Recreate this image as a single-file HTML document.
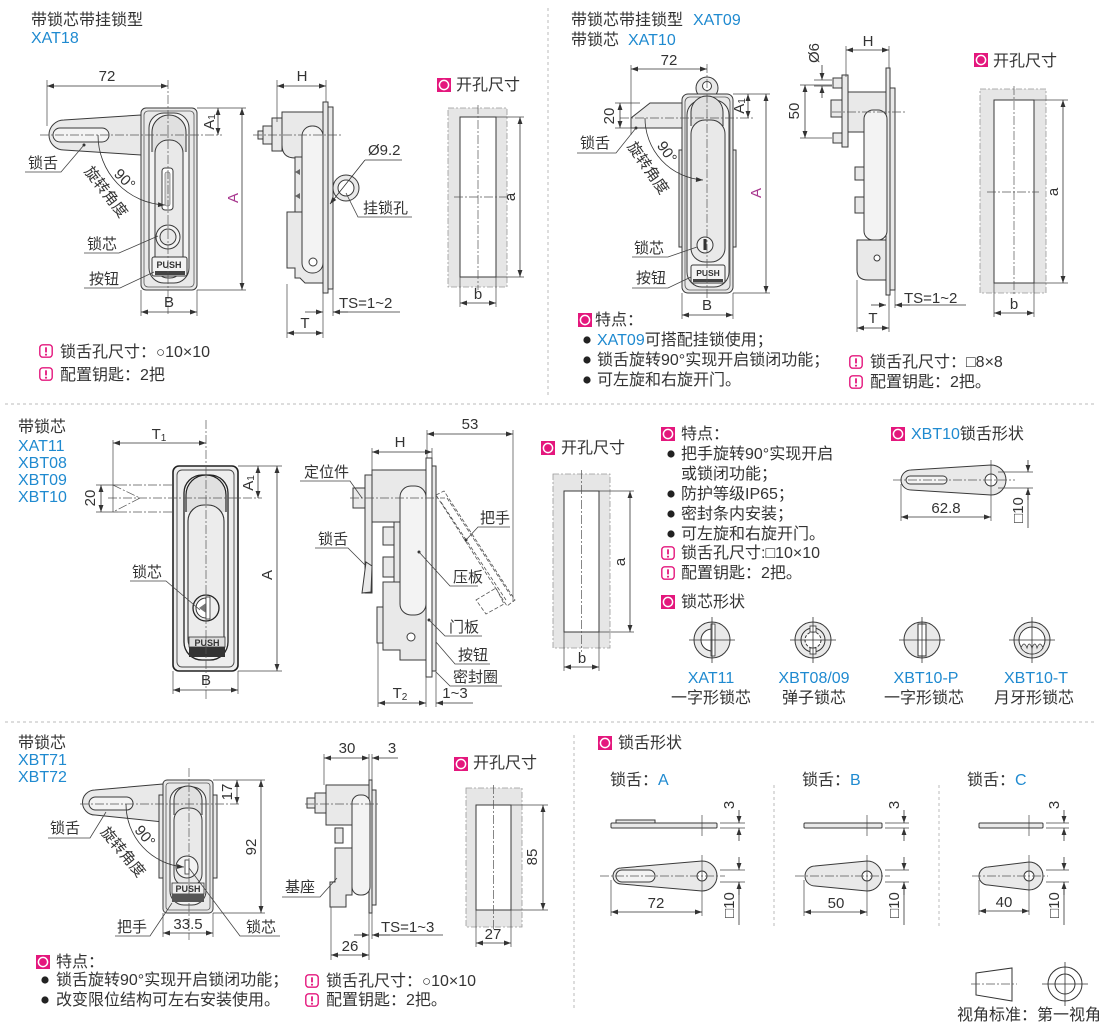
<!DOCTYPE html>
<html><head><meta charset="utf-8">
<style>
html,body{margin:0;padding:0;background:#fff;}
svg{display:block;}
text{font-family:"Liberation Sans","Noto Sans CJK SC",sans-serif;fill:#333;}
.c{font-size:16px;}
.l{font-size:15px;}
.d{font-size:15px;}
.b{fill:#1f8ad0;}
.m{fill:#a8388f;}
.dim{stroke:#333;stroke-width:0.8;fill:none;}
.ext{stroke:#444;stroke-width:0.7;fill:none;}
.cl{stroke:#555;stroke-width:0.7;fill:none;stroke-dasharray:9 2 2 2;}
.p{fill:#e9e9e9;stroke:#3a3a3a;stroke-width:1;}
.q{fill:#f3f3f3;stroke:#3a3a3a;stroke-width:1;}
.w{fill:#fff;stroke:#3a3a3a;stroke-width:1;}
.sep{stroke:#bbb;stroke-width:1;stroke-dasharray:3 3;fill:none;}
.co{fill:#e6e6e6;stroke:#999;stroke-width:0.8;stroke-dasharray:6 2 2 2;}
.ld{stroke:#444;stroke-width:0.8;fill:none;}
.ph{stroke:#555;stroke-width:0.8;fill:none;stroke-dasharray:4 2;}
.bu{fill:#222;}
</style></head><body>
<svg width="1110" height="1027" viewBox="0 0 1110 1027" xmlns="http://www.w3.org/2000/svg">
<defs>
<marker id="a" viewBox="0 0 10 10" refX="10" refY="5" markerWidth="8" markerHeight="7" markerUnits="userSpaceOnUse" orient="auto-start-reverse"><path d="M0,1.5L10,5L0,8.5z" fill="#333"/></marker>
<symbol id="io" viewBox="0 0 14 14"><rect width="14" height="14" fill="#e4177d"/><circle cx="7" cy="7" r="4.6" fill="none" stroke="#fff" stroke-width="1.5"/></symbol>
<symbol id="ie" viewBox="0 0 14 14"><rect x=".8" y=".8" width="12.4" height="12.4" rx="3" fill="#fff" stroke="#e4177d" stroke-width="1.4"/><path d="M7 3.3V8.4" stroke="#e4177d" stroke-width="1.8"/><circle cx="7" cy="10.7" r="1.05" fill="#e4177d"/></symbol>
</defs>

<!-- separators -->
<line x1="548" y1="8" x2="548" y2="398" class="sep"/>
<line x1="5" y1="404" x2="1095" y2="404" class="sep"/>
<line x1="5" y1="722" x2="1095" y2="722" class="sep"/>
<line x1="574" y1="735" x2="574" y2="1010" class="sep"/>

<!-- ================= SECTION 1 ================= -->
<text x="31" y="25" class="c">带锁芯带挂锁型</text>
<text x="31" y="43" class="c b">XAT18</text>

<!-- front view -->
<path d="M141,115 L64,120 A15,15 0 0 0 64,150 L141,155 Z" class="p"/>
<rect x="53" y="128" width="56" height="14" rx="7" class="q"/>
<rect x="141" y="108" width="56" height="182" rx="5" class="p"/>
<rect x="144" y="111" width="50" height="176" rx="4" fill="none" stroke="#555" stroke-width="0.8"/>
<rect x="149" y="113" width="40" height="170" rx="15" class="q"/>
<path d="M152,152 V132 A16,16 0 0 1 186,132 V152" fill="#e0e0e0" stroke="#333" stroke-width="1"/>
<rect x="155" y="140" width="28" height="138" rx="13" class="p"/>
<rect x="162" y="168" width="11" height="42" rx="3" class="w"/>
<rect x="165" y="172" width="5" height="34" rx="2" fill="#ddd" stroke="#555" stroke-width="0.6"/>
<circle cx="168" cy="237" r="12" class="q"/>
<circle cx="168" cy="237" r="8" class="p"/>
<rect x="152" y="257" width="35" height="19" rx="2" class="q"/>
<text x="169" y="268" font-size="9" font-weight="bold" text-anchor="middle">PUSH</text>
<rect x="155" y="271" width="30" height="4" fill="#444"/>
<line x1="168" y1="80" x2="168" y2="316" class="cl"/>
<line x1="40" y1="135" x2="222" y2="135" class="cl"/>
<g class="dim" marker-start="url(#a)" marker-end="url(#a)">
<line x1="47" y1="86" x2="168" y2="86"/>
<line x1="218" y1="108" x2="218" y2="135"/>
<line x1="242" y1="108" x2="242" y2="290"/>
<line x1="141" y1="312" x2="197" y2="312"/>
</g>
<g class="ext">
<line x1="47" y1="80" x2="47" y2="126"/>
<line x1="197" y1="108" x2="246" y2="108"/>
<line x1="197" y1="290" x2="246" y2="290"/>
<line x1="141" y1="290" x2="141" y2="316"/>
<line x1="197" y1="290" x2="197" y2="316"/>
</g>
<text x="107" y="81" class="d" text-anchor="middle">72</text>
<text transform="rotate(-90 214 122)" x="214" y="122" class="d" text-anchor="middle">A<tspan font-size="10" dy="1">1</tspan></text>
<text transform="rotate(-90 238 198)" x="238" y="198" class="d m" text-anchor="middle">A</text>
<text x="169" y="307" class="d" text-anchor="middle">B</text>
<path d="M98,135 A70,70 0 0 0 165,205" class="dim" marker-end="url(#a)"/>
<text transform="rotate(45 124 180)" x="124" y="184" class="l" text-anchor="middle">90°</text>
<text transform="rotate(52 106 192)" x="106" y="197" class="l" text-anchor="middle">旋转角度</text>
<text x="28" y="168" class="l">锁舌</text>
<polyline points="25,172 61,172 84,145" class="ld"/><circle cx="84" cy="145" r="1.5" fill="#333"/>
<text x="87" y="249" class="l">锁芯</text>
<polyline points="84,253 119,253 158,236" class="ld"/>
<text x="89" y="284" class="l">按钮</text>
<polyline points="84,288 120,288 154,272" class="ld"/>

<!-- side view 1 -->
<rect x="323" y="102" width="5" height="191" class="p"/>
<rect x="328" y="107" width="5" height="182" class="p"/>
<rect x="272" y="118" width="10" height="33" class="p"/>
<rect x="263" y="126" width="9" height="18" class="p"/>
<rect x="258" y="131" width="5" height="8" class="p"/>
<path d="M282,112 H323 V158 H295 Q282,158 282,145 Z" class="p"/>
<rect x="295" y="157" width="7" height="55" class="p"/>
<path d="M295,172 l5,-3 v6z M295,196 l5,-3 v6z" fill="#666"/>
<path d="M287,212 H323 V283 H305 L300,278 H295 V268 H287 Z" class="p"/>
<rect x="302" y="126" width="21" height="147" rx="10" class="q"/>
<circle cx="313" cy="262" r="4" class="w"/>
<circle cx="346" cy="188" r="13" class="p"/>
<circle cx="346" cy="188" r="8" class="w"/>
<line x1="253" y1="135" x2="342" y2="135" class="cl"/>
<g class="dim" marker-start="url(#a)" marker-end="url(#a)">
<line x1="277" y1="86" x2="326" y2="86"/>
<line x1="287" y1="333" x2="323" y2="333"/>
</g>
<g class="dim" marker-end="url(#a)">
<line x1="365" y1="160" x2="330" y2="204"/>
<line x1="305" y1="312" x2="323" y2="312"/>
<line x1="348" y1="312" x2="333" y2="312"/>
</g>
<line x1="333" y1="312" x2="400" y2="312" class="dim"/>
<line x1="365" y1="160" x2="402" y2="160" class="dim"/>
<g class="ext">
<line x1="277" y1="80" x2="277" y2="122"/>
<line x1="326" y1="80" x2="326" y2="102"/>
<line x1="287" y1="284" x2="287" y2="338"/>
<line x1="323" y1="293" x2="323" y2="338"/>
<line x1="333" y1="289" x2="333" y2="316"/>
</g>
<text x="302" y="81" class="d" text-anchor="middle">H</text>
<text x="305" y="328" class="d" text-anchor="middle">T</text>
<text x="339" y="308" class="d">TS=1~2</text>
<text x="368" y="155" class="d">Ø9.2</text>
<text x="363" y="213" class="l">挂锁孔</text>
<polyline points="412,217 358,217 346,193" class="ld"/>

<!-- cutout 1 -->
<use href="#io" x="437" y="78" width="14" height="14"/>
<text x="456" y="90" class="c">开孔尺寸</text>
<rect x="448" y="108" width="59" height="179" class="co"/>
<rect x="460" y="117" width="36" height="160" class="w"/>
<line x1="478" y1="105" x2="478" y2="290" class="cl"/>
<line x1="454" y1="197" x2="512" y2="197" class="cl"/>
<g class="dim" marker-start="url(#a)" marker-end="url(#a)">
<line x1="520" y1="117" x2="520" y2="277"/>
<line x1="460" y1="303" x2="496" y2="303"/>
</g>
<g class="ext">
<line x1="496" y1="117" x2="524" y2="117"/>
<line x1="496" y1="277" x2="524" y2="277"/>
<line x1="460" y1="277" x2="460" y2="307"/>
<line x1="496" y1="277" x2="496" y2="307"/>
</g>
<text transform="rotate(-90 515 197)" x="515" y="197" class="d" text-anchor="middle">a</text>
<text x="478" y="299" class="d" text-anchor="middle">b</text>

<use href="#ie" x="39" y="344" width="14" height="14"/>
<text x="60" y="357" class="c">锁舌孔尺寸：<tspan font-size="15">○</tspan>10×10</text>
<use href="#ie" x="39" y="367" width="14" height="14"/>
<text x="60" y="380" class="c">配置钥匙：2把</text>

<!-- ================= SECTION 2 ================= -->
<text x="571" y="25" class="c">带锁芯带挂锁型<tspan x="693" class="b">XAT09</tspan></text>
<text x="571" y="45" class="c">带锁芯<tspan x="628" class="b">XAT10</tspan></text>

<path d="M631,128 H682 V103 H650 L631,118 Z" class="p"/>
<circle cx="707" cy="88" r="11" class="p"/>
<circle cx="707" cy="86" r="4.5" class="w"/>
<rect x="679" y="150" width="4" height="97" class="p"/>
<rect x="732" y="150" width="4" height="97" class="p"/>
<rect x="682" y="94" width="51" height="199" rx="6" class="p"/>
<rect x="685" y="97" width="45" height="193" rx="5" fill="none" stroke="#555" stroke-width="0.8"/>
<rect x="687" y="100" width="42" height="187" rx="15" class="q"/>
<path d="M691,126 V112 A16,16 0 0 1 723,112 V126" fill="#e0e0e0" stroke="#333"/>
<rect x="691" y="120" width="34" height="142" rx="14" class="p"/>
<circle cx="705" cy="245" r="8" class="q"/>
<rect x="703.5" y="239" width="3" height="11" fill="#333"/>
<rect x="691" y="265" width="34" height="18" rx="2" class="q"/>
<text x="708" y="276" font-size="8.5" font-weight="bold" text-anchor="middle">PUSH</text>
<rect x="693" y="279" width="30" height="3" fill="#444"/>
<line x1="707" y1="64" x2="707" y2="300" class="cl"/>
<line x1="620" y1="118" x2="755" y2="118" class="cl"/>
<g class="dim" marker-start="url(#a)" marker-end="url(#a)">
<line x1="631" y1="69" x2="707" y2="69"/>
<line x1="620" y1="103" x2="620" y2="128"/>
<line x1="748" y1="94" x2="748" y2="118"/>
<line x1="766" y1="94" x2="766" y2="293"/>
<line x1="682" y1="315" x2="733" y2="315"/>
</g>
<g class="ext">
<line x1="631" y1="65" x2="631" y2="135"/>
<line x1="615" y1="103" x2="640" y2="103"/>
<line x1="615" y1="128" x2="640" y2="128"/>
<line x1="733" y1="94" x2="770" y2="94"/>
<line x1="733" y1="293" x2="770" y2="293"/>
<line x1="682" y1="293" x2="682" y2="319"/>
<line x1="733" y1="293" x2="733" y2="319"/>
</g>
<text x="669" y="65" class="d" text-anchor="middle">72</text>
<text transform="rotate(-90 614 116)" x="614" y="116" class="d" text-anchor="middle">20</text>
<text transform="rotate(-90 744 106)" x="744" y="106" class="d" text-anchor="middle">A<tspan font-size="10" dy="1">1</tspan></text>
<text transform="rotate(-90 761 193)" x="761" y="193" class="d m" text-anchor="middle">A</text>
<text x="707" y="310" class="d" text-anchor="middle">B</text>
<path d="M645,118 A62,62 0 0 0 703,180" class="dim" marker-end="url(#a)"/>
<text transform="rotate(55 667 152)" x="667" y="157" class="l" text-anchor="middle">90°</text>
<text transform="rotate(55 648 168)" x="648" y="173" class="l" text-anchor="middle">旋转角度</text>
<text x="580" y="148" class="l">锁舌</text>
<polyline points="577,153 616,153 636,128" class="ld"/><circle cx="636" cy="128" r="1.5" fill="#333"/>
<text x="634" y="253" class="l">锁芯</text>
<polyline points="632,257 668,257 697,247" class="ld"/>
<text x="636" y="283" class="l">按钮</text>
<polyline points="632,288 668,288 691,277" class="ld"/>

<!-- side view 2 -->
<rect x="886" y="68" width="4" height="227" class="p"/>
<rect x="890" y="88" width="5" height="202" class="p"/>
<rect x="842" y="75" width="6" height="72" class="p"/>
<rect x="833" y="78" width="9" height="10" class="p"/>
<rect x="831" y="100" width="11" height="17" class="p"/>
<rect x="833" y="133" width="9" height="10" class="p"/>
<rect x="848" y="92" width="38" height="40" class="p"/>
<rect x="864" y="110" width="23" height="130" rx="9" class="q"/>
<rect x="855" y="167" width="9" height="13" class="p"/>
<rect x="855" y="197" width="9" height="16" class="p"/>
<path d="M857,240 H886 V280 H868 Q857,280 857,270 Z" class="p"/>
<circle cx="877" cy="258" r="3" class="w"/>
<line x1="832" y1="112" x2="907" y2="112" class="cl"/>
<g class="dim" marker-start="url(#a)" marker-end="url(#a)">
<line x1="805" y1="85" x2="805" y2="138"/>
<line x1="846" y1="50" x2="889" y2="50"/>
<line x1="857" y1="328" x2="889" y2="328"/>
</g>
<g class="dim" marker-end="url(#a)">
<line x1="822" y1="65" x2="822" y2="80"/>
<line x1="822" y1="98" x2="822" y2="86"/>
<line x1="871" y1="305" x2="886" y2="305"/>
<line x1="910" y1="305" x2="895" y2="305"/>
</g>
<line x1="895" y1="305" x2="966" y2="305" class="dim"/>
<g class="ext">
<line x1="814" y1="80" x2="832" y2="80"/>
<line x1="814" y1="86" x2="832" y2="86"/>
<line x1="800" y1="85" x2="832" y2="85"/>
<line x1="800" y1="138" x2="832" y2="138"/>
<line x1="846" y1="46" x2="846" y2="77"/>
<line x1="889" y1="46" x2="889" y2="68"/>
<line x1="857" y1="280" x2="857" y2="332"/>
<line x1="889" y1="295" x2="889" y2="332"/>
<line x1="895" y1="290" x2="895" y2="308"/>
</g>
<text transform="rotate(-90 819 53)" x="819" y="53" class="d" text-anchor="middle">Ø6</text>
<text transform="rotate(-90 799 111)" x="799" y="111" class="d" text-anchor="middle">50</text>
<text x="868" y="46" class="d" text-anchor="middle">H</text>
<text x="873" y="323" class="d" text-anchor="middle">T</text>
<text x="904" y="303" class="d">TS=1~2</text>

<!-- cutout 2 -->
<use href="#io" x="974" y="53" width="14" height="14"/>
<text x="993" y="66" class="c">开孔尺寸</text>
<rect x="980" y="89" width="66" height="204" class="co"/>
<rect x="994" y="100" width="40" height="183" class="w"/>
<line x1="1014" y1="86" x2="1014" y2="296" class="cl"/>
<line x1="987" y1="192" x2="1039" y2="192" class="cl"/>
<g class="dim" marker-start="url(#a)" marker-end="url(#a)">
<line x1="1063" y1="100" x2="1063" y2="283"/>
<line x1="994" y1="313" x2="1034" y2="313"/>
</g>
<g class="ext">
<line x1="1034" y1="100" x2="1068" y2="100"/>
<line x1="1034" y1="283" x2="1068" y2="283"/>
<line x1="994" y1="283" x2="994" y2="317"/>
<line x1="1034" y1="283" x2="1034" y2="317"/>
</g>
<text transform="rotate(-90 1058 192)" x="1058" y="192" class="d" text-anchor="middle">a</text>
<text x="1014" y="309" class="d" text-anchor="middle">b</text>

<use href="#io" x="578" y="313" width="14" height="14"/>
<text x="595" y="325" class="c">特点：</text>
<circle cx="587" cy="340" r="3.6" class="bu"/>
<text x="597" y="345" class="c"><tspan class="b">XAT09</tspan>可搭配挂锁使用；</text>
<circle cx="587" cy="360" r="3.6" class="bu"/>
<text x="597" y="365" class="c">锁舌旋转90°实现开启锁闭功能；</text>
<circle cx="587" cy="380" r="3.6" class="bu"/>
<text x="597" y="385" class="c">可左旋和右旋开门。</text>
<use href="#ie" x="849" y="355" width="14" height="14"/>
<text x="870" y="367" class="c">锁舌孔尺寸：□8×8</text>
<use href="#ie" x="849" y="375" width="14" height="14"/>
<text x="870" y="387" class="c">配置钥匙：2把。</text>

<!-- ================= SECTION 3 ================= -->
<text x="18" y="432" class="c">带锁芯</text>
<text x="18" y="451" class="c b">XAT11</text>
<text x="18" y="468" class="c b">XBT08</text>
<text x="18" y="485" class="c b">XBT09</text>
<text x="18" y="502" class="c b">XBT10</text>

<path d="M172,485 H118 M172,512 H118 M113,485 L140,498 L113,512" class="cl"/>
<rect x="173" y="466" width="65" height="205" rx="6" fill="#eee" stroke="#222" stroke-width="1.6"/>
<rect x="177" y="470" width="57" height="197" rx="5" fill="none" stroke="#444" stroke-width="0.9"/>
<rect x="184" y="475" width="44" height="185" rx="18" fill="#f3f3f3" stroke="#222" stroke-width="1.3"/>
<path d="M186,512 V495 A20,20 0 0 1 226,495 V512" fill="#e0e0e0" stroke="#222" stroke-width="1.2"/>
<rect x="188" y="505" width="36" height="150" rx="16" fill="#ececec" stroke="#333" stroke-width="1.1"/>
<circle cx="206" cy="608" r="13" fill="#eee" stroke="#222" stroke-width="1.3"/>
<path d="M206,598 A10,10 0 0 0 206,618 Z" fill="#fff" stroke="#333"/>
<path d="M206,603 L199,608 L206,613 Z" fill="#777"/>
<rect x="206" y="597" width="4" height="22" fill="#fff" stroke="#333" stroke-width="0.8"/>
<rect x="189" y="637" width="36" height="10" fill="#ddd" stroke="#333" stroke-width="0.8"/>
<text x="207" y="646" font-size="9" font-weight="bold" text-anchor="middle">PUSH</text>
<rect x="189" y="647" width="36" height="10" fill="#333"/>
<line x1="206" y1="420" x2="206" y2="700" class="cl"/>
<line x1="108" y1="498" x2="262" y2="498" class="cl"/>
<g class="dim" marker-start="url(#a)" marker-end="url(#a)">
<line x1="113" y1="443" x2="206" y2="443"/>
<line x1="101" y1="485" x2="101" y2="512"/>
<line x1="258" y1="466" x2="258" y2="498"/>
<line x1="277" y1="466" x2="277" y2="671"/>
<line x1="173" y1="690" x2="238" y2="690"/>
</g>
<g class="ext">
<line x1="113" y1="440" x2="113" y2="512"/>
<line x1="96" y1="485" x2="118" y2="485"/>
<line x1="96" y1="512" x2="118" y2="512"/>
<line x1="238" y1="466" x2="282" y2="466"/>
<line x1="238" y1="671" x2="282" y2="671"/>
<line x1="173" y1="671" x2="173" y2="694"/>
<line x1="238" y1="671" x2="238" y2="694"/>
</g>
<text x="159" y="439" class="d" text-anchor="middle">T<tspan font-size="10" dy="2">1</tspan></text>
<text transform="rotate(-90 95 498)" x="95" y="498" class="d" text-anchor="middle">20</text>
<text transform="rotate(-90 253 483)" x="253" y="483" class="d" text-anchor="middle">A<tspan font-size="10" dy="1">1</tspan></text>
<text transform="rotate(-90 272 575)" x="272" y="575" class="d" text-anchor="middle">A</text>
<text x="206" y="685" class="d" text-anchor="middle">B</text>
<text x="132" y="577" class="l">锁芯</text>
<polyline points="130,581 166,581 200,610" class="ld"/>

<!-- side view 3 -->
<rect x="426" y="458" width="6" height="219" class="w"/>
<rect x="432" y="466" width="4" height="205" class="p"/>
<rect x="365" y="475" width="7" height="118" class="p"/>
<rect x="353" y="488" width="12" height="20" class="p"/>
<rect x="372" y="470" width="54" height="52" class="p"/>
<rect x="394" y="522" width="6" height="60" class="p"/>
<rect x="383" y="527" width="11" height="18" class="p"/>
<rect x="383" y="557" width="11" height="20" class="p"/>
<path d="M383,582 H426 V660 H400 V650 H383 Z" class="p"/>
<rect x="377" y="607" width="6" height="36" class="p"/>
<rect x="400" y="486" width="26" height="129" rx="11" class="q"/>
<circle cx="411" cy="637" r="4" class="w"/>
<path d="M366,562 L372,566 L371,592 L362,593 Z" class="p"/>
<path d="M436,495 L444,491 L515,600 L507,606 Z M441,502 L506,600 M447,498 L511,596" class="ph"/>
<path d="M476,600 L496,588 L504,604 L486,614 Z" class="ph"/>
<line x1="350" y1="498" x2="445" y2="498" class="cl"/>
<circle cx="419" cy="552" r="1.5" fill="#333"/>
<circle cx="429" cy="620" r="1.5" fill="#333"/>
<circle cx="466" cy="540" r="1.5" fill="#333"/>
<g class="dim" marker-start="url(#a)" marker-end="url(#a)">
<line x1="372" y1="452" x2="432" y2="452"/>
<line x1="427" y1="434" x2="513" y2="434"/>
<line x1="378" y1="703" x2="426" y2="703"/>
</g>
<line x1="473" y1="703" x2="436" y2="703" class="dim" marker-end="url(#a)"/>
<g class="ext">
<line x1="372" y1="448" x2="372" y2="475"/>
<line x1="432" y1="448" x2="432" y2="458"/>
<line x1="427" y1="430" x2="427" y2="458"/>
<line x1="513" y1="430" x2="513" y2="602"/>
<line x1="378" y1="643" x2="378" y2="707"/>
<line x1="426" y1="677" x2="426" y2="707"/>
<line x1="436" y1="671" x2="436" y2="707"/>
</g>
<text x="400" y="447" class="d" text-anchor="middle">H</text>
<text x="470" y="429" class="d" text-anchor="middle">53</text>
<text x="400" y="698" class="d" text-anchor="middle">T<tspan font-size="10" dy="2">2</tspan></text>
<text x="455" y="698" class="d" text-anchor="middle">1~3</text>
<text x="304" y="477" class="l">定位件</text>
<polyline points="300,481 350,481 362,498" class="ld"/>
<text x="318" y="544" class="l">锁舌</text>
<polyline points="315,548 348,548 365,565" class="ld"/>
<text x="480" y="523" class="l">把手</text>
<polyline points="510,527 478,527 466,540" class="ld"/>
<text x="453" y="582" class="l">压板</text>
<polyline points="478,586 450,586 419,552" class="ld"/>
<text x="449" y="632" class="l">门板</text>
<polyline points="482,636 445,636 429,620" class="ld"/>
<text x="458" y="660" class="l">按钮</text>
<polyline points="490,664 455,664 436,642" class="ld"/>
<text x="453" y="682" class="l">密封圈</text>
<polyline points="502,686 450,686 436,672" class="ld"/>

<!-- cutout 3 -->
<use href="#io" x="541" y="441" width="14" height="14"/>
<text x="561" y="453" class="c">开孔尺寸</text>
<rect x="553" y="474" width="57" height="174" class="co"/>
<rect x="564" y="491" width="35" height="141" class="w"/>
<line x1="581.5" y1="470" x2="581.5" y2="652" class="cl"/>
<g class="dim" marker-start="url(#a)" marker-end="url(#a)">
<line x1="630" y1="491" x2="630" y2="632"/>
<line x1="564" y1="667" x2="599" y2="667"/>
</g>
<g class="ext">
<line x1="599" y1="491" x2="634" y2="491"/>
<line x1="599" y1="632" x2="634" y2="632"/>
<line x1="564" y1="632" x2="564" y2="671"/>
<line x1="599" y1="632" x2="599" y2="671"/>
</g>
<text transform="rotate(-90 625 562)" x="625" y="562" class="d" text-anchor="middle">a</text>
<text x="582" y="663" class="d" text-anchor="middle">b</text>

<!-- features 3 -->
<use href="#io" x="661" y="427" width="14" height="14"/>
<text x="681" y="439" class="c">特点：</text>
<circle cx="671" cy="454" r="3.6" class="bu"/>
<text x="681" y="459" class="c">把手旋转90°实现开启</text>
<text x="681" y="479" class="c">或锁闭功能；</text>
<circle cx="671" cy="494" r="3.6" class="bu"/>
<text x="681" y="499" class="c">防护等级IP65；</text>
<circle cx="671" cy="514" r="3.6" class="bu"/>
<text x="681" y="519" class="c">密封条内安装；</text>
<circle cx="671" cy="534" r="3.6" class="bu"/>
<text x="681" y="539" class="c">可左旋和右旋开门。</text>
<use href="#ie" x="661" y="546" width="14" height="14"/>
<text x="681" y="558" class="c">锁舌孔尺寸:□10×10</text>
<use href="#ie" x="661" y="566" width="14" height="14"/>
<text x="681" y="578" class="c">配置钥匙：2把。</text>
<use href="#io" x="661" y="595" width="14" height="14"/>
<text x="681" y="607" class="c">锁芯形状</text>

<!-- lock cores -->
<g>
<circle cx="712" cy="640" r="18" class="p"/>
<path d="M712,629 A11,11 0 0 0 712,651 Z" fill="#fff" stroke="#333"/>
<rect x="711" y="624" width="4" height="32" fill="#fff" stroke="#333" stroke-width="0.8"/>
<line x1="689" y1="640" x2="735" y2="640" stroke="#333" stroke-width="0.8"/>
<line x1="712" y1="617" x2="712" y2="663" stroke="#333" stroke-width="0.8"/>

<circle cx="813" cy="640" r="18" class="p"/>
<circle cx="813" cy="640" r="12" fill="#eee" stroke="#333"/>
<circle cx="813" cy="640" r="8" fill="#fff" stroke="#333" stroke-dasharray="3 1.5"/>
<rect x="810" y="626" width="6" height="6" fill="#fff" stroke="#333" stroke-width="0.8"/>
<rect x="810" y="648" width="6" height="6" fill="#fff" stroke="#333" stroke-width="0.8"/>
<line x1="790" y1="640" x2="836" y2="640" stroke="#333" stroke-width="0.8"/>
<line x1="813" y1="617" x2="813" y2="663" stroke="#333" stroke-width="0.8"/>

<circle cx="922" cy="640" r="18" class="p"/>
<rect x="918" y="624" width="8" height="32" fill="#fff" stroke="#333"/>
<line x1="899" y1="640" x2="945" y2="640" stroke="#333" stroke-width="0.8"/>
<line x1="922" y1="617" x2="922" y2="663" stroke="#333" stroke-width="0.8"/>

<circle cx="1032" cy="640" r="18" class="p"/>
<circle cx="1032" cy="640" r="13" fill="#fff" stroke="#333"/>
<path d="M1021,648 q3,-8 6,0 q2,-8 5,0 q3,-8 5,0 q3,-8 6,0 A13,13 0 0 1 1021,648 Z" fill="#e9e9e9" stroke="#333" stroke-width="0.8"/>
<line x1="1009" y1="640" x2="1055" y2="640" stroke="#333" stroke-width="0.8"/>
<line x1="1032" y1="617" x2="1032" y2="663" stroke="#333" stroke-width="0.8"/>
</g>
<text x="711" y="683" class="c b" text-anchor="middle">XAT11</text>
<text x="711" y="703" class="c" text-anchor="middle">一字形锁芯</text>
<text x="814" y="683" class="c b" text-anchor="middle">XBT08/09</text>
<text x="814" y="703" class="c" text-anchor="middle">弹子锁芯</text>
<text x="926" y="683" class="c b" text-anchor="middle">XBT10-P</text>
<text x="924" y="703" class="c" text-anchor="middle">一字形锁芯</text>
<text x="1036" y="683" class="c b" text-anchor="middle">XBT10-T</text>
<text x="1034" y="703" class="c" text-anchor="middle">月牙形锁芯</text>

<!-- XBT10 tongue -->
<use href="#io" x="891" y="427" width="14" height="14"/>
<text x="911" y="439" class="c"><tspan class="b">XBT10</tspan>锁舌形状</text>
<path d="M911,470 L991,465 A15,15 0 0 1 991,495 L911,490 A10,10 0 0 1 911,470 Z" class="p"/>
<rect x="906" y="476" width="41" height="8" rx="4" class="q"/>
<circle cx="991" cy="480" r="6" class="w"/>
<line x1="893" y1="480" x2="1015" y2="480" class="cl"/>
<line x1="991" y1="460" x2="991" y2="521" class="ext"/>
<line x1="901" y1="484" x2="901" y2="521" class="ext"/>
<line x1="901" y1="517" x2="991" y2="517" class="dim" marker-start="url(#a)" marker-end="url(#a)"/>
<text x="946" y="513" class="d" text-anchor="middle">62.8</text>
<g class="ext">
<line x1="998" y1="472" x2="1033" y2="472"/>
<line x1="998" y1="488" x2="1033" y2="488"/>
</g>
<g class="dim" marker-end="url(#a)">
<line x1="1028" y1="460" x2="1028" y2="472"/>
<line x1="1028" y1="500" x2="1028" y2="488"/>
</g>
<line x1="1028" y1="488" x2="1028" y2="528" class="dim"/>
<text transform="rotate(-90 1023 510)" x="1023" y="510" class="d" text-anchor="middle">□10</text>

<!-- ================= SECTION 4 ================= -->
<text x="18" y="748" class="c">带锁芯</text>
<text x="18" y="765" class="c b">XBT71</text>
<text x="18" y="782" class="c b">XBT72</text>

<path d="M163,784 L95,790 A12.5,12.5 0 0 0 95,815 L163,822 Z" class="p"/>
<rect x="89" y="797" width="44" height="13" rx="6.5" class="q"/>
<rect x="159" y="795" width="4" height="83" class="p"/>
<rect x="213" y="795" width="4" height="83" class="p"/>
<rect x="163" y="780" width="50" height="133" rx="4" class="p"/>
<rect x="166" y="783" width="44" height="127" rx="3" fill="none" stroke="#555" stroke-width="0.8"/>
<rect x="170" y="787" width="36" height="118" rx="14" class="q"/>
<path d="M174,815 V800 A14,14 0 0 1 202,800 V815" fill="#e0e0e0" stroke="#333"/>
<rect x="174" y="808" width="28" height="78" rx="12" class="p"/>
<circle cx="187" cy="867" r="11" class="q"/>
<rect x="185" y="860" width="4" height="14" fill="#fff" stroke="#333" stroke-width="0.8"/>
<rect x="172" y="883" width="32" height="11" fill="#eee" stroke="#333" stroke-width="0.8"/>
<text x="188" y="892" font-size="9" font-weight="bold" font-family="Liberation Serif,serif" text-anchor="middle">PUSH</text>
<rect x="172" y="894" width="32" height="8" fill="#555"/>
<line x1="189" y1="768" x2="189" y2="940" class="cl"/>
<line x1="80" y1="804" x2="241" y2="804" class="cl"/>
<g class="dim" marker-start="url(#a)" marker-end="url(#a)">
<line x1="237" y1="780" x2="237" y2="804"/>
<line x1="261" y1="780" x2="261" y2="913"/>
<line x1="163" y1="933" x2="213" y2="933"/>
</g>
<g class="ext">
<line x1="213" y1="780" x2="265" y2="780"/>
<line x1="213" y1="913" x2="265" y2="913"/>
<line x1="163" y1="913" x2="163" y2="937"/>
<line x1="213" y1="913" x2="213" y2="937"/>
</g>
<text transform="rotate(-90 232 792)" x="232" y="792" class="d" text-anchor="middle">17</text>
<text transform="rotate(-90 256 847)" x="256" y="847" class="d" text-anchor="middle">92</text>
<text x="188" y="929" class="d" text-anchor="middle">33.5</text>
<path d="M126,804 A63,63 0 0 0 184,867" class="dim" marker-end="url(#a)"/>
<text transform="rotate(50 145 836)" x="145" y="841" class="l" text-anchor="middle">90°</text>
<text transform="rotate(50 123 852)" x="123" y="857" class="l" text-anchor="middle">旋转角度</text>
<text x="50" y="833" class="l">锁舌</text>
<polyline points="48,838 90,838 106,812" class="ld"/>
<text x="117" y="932" class="l">把手</text>
<polyline points="115,936 150,936 172,903" class="ld"/>
<text x="246" y="932" class="l">锁芯</text>
<polyline points="280,936 240,936 189,868" class="ld"/>

<!-- side view 4 -->
<rect x="369" y="780" width="3" height="133" class="p"/>
<rect x="372" y="790" width="4" height="115" class="p"/>
<rect x="326" y="785" width="43" height="40" class="p"/>
<rect x="315" y="793" width="11" height="20" class="p"/>
<rect x="307" y="798" width="8" height="10" class="p"/>
<rect x="335" y="828" width="8" height="15" class="p"/>
<path d="M335,848 H352 V895 H346 V907 H330 V882 H335 Z" class="p"/>
<rect x="352" y="795" width="18" height="100" rx="8" class="q"/>
<line x1="305" y1="804" x2="380" y2="804" class="cl"/>
<g class="dim" marker-start="url(#a)" marker-end="url(#a)">
<line x1="324" y1="758" x2="369" y2="758"/>
<line x1="331" y1="955" x2="369" y2="955"/>
</g>
<g class="dim" marker-end="url(#a)">
<line x1="398" y1="758" x2="372" y2="758"/>
<line x1="354" y1="935" x2="369" y2="935"/>
<line x1="390" y1="935" x2="372" y2="935"/>
</g>
<line x1="372" y1="935" x2="443" y2="935" class="dim"/>
<g class="ext">
<line x1="324" y1="754" x2="324" y2="785"/>
<line x1="369" y1="754" x2="369" y2="780"/>
<line x1="372" y1="754" x2="372" y2="790"/>
<line x1="331" y1="907" x2="331" y2="960"/>
<line x1="369" y1="913" x2="369" y2="960"/>
<line x1="372" y1="905" x2="372" y2="939"/>
</g>
<text x="347" y="753" class="d" text-anchor="middle">30</text>
<text x="392" y="753" class="d" text-anchor="middle">3</text>
<text x="381" y="932" class="d">TS=1~3</text>
<text x="350" y="951" class="d" text-anchor="middle">26</text>
<text x="285" y="892" class="l">基座</text>
<polyline points="282,897 320,897 337,878" class="ld"/>

<!-- cutout 4 -->
<use href="#io" x="454" y="757" width="14" height="14"/>
<text x="473" y="768" class="c">开孔尺寸</text>
<rect x="466" y="788" width="56" height="139" class="co"/>
<rect x="476" y="805" width="35" height="105" class="w"/>
<line x1="493.5" y1="785" x2="493.5" y2="930" class="cl"/>
<g class="dim" marker-start="url(#a)" marker-end="url(#a)">
<line x1="543" y1="805" x2="543" y2="910"/>
<line x1="476" y1="943" x2="511" y2="943"/>
</g>
<g class="ext">
<line x1="511" y1="805" x2="548" y2="805"/>
<line x1="511" y1="910" x2="548" y2="910"/>
<line x1="476" y1="910" x2="476" y2="947"/>
<line x1="511" y1="910" x2="511" y2="947"/>
</g>
<text transform="rotate(-90 537 857)" x="537" y="857" class="d" text-anchor="middle">85</text>
<text x="493" y="939" class="d" text-anchor="middle">27</text>

<use href="#io" x="36" y="955" width="14" height="14"/>
<text x="56" y="967" class="c">特点：</text>
<circle cx="45" cy="980" r="3.6" class="bu"/>
<text x="56" y="985" class="c">锁舌旋转90°实现开启锁闭功能；</text>
<circle cx="45" cy="1000" r="3.6" class="bu"/>
<text x="56" y="1005" class="c">改变限位结构可左右安装使用。</text>
<use href="#ie" x="305" y="974" width="14" height="14"/>
<text x="326" y="986" class="c">锁舌孔尺寸：<tspan font-size="15">○</tspan>10×10</text>
<use href="#ie" x="305" y="993" width="14" height="14"/>
<text x="326" y="1005" class="c">配置钥匙：2把。</text>

<!-- ================= SECTION 5 ================= -->
<use href="#io" x="598" y="736" width="14" height="14"/>
<text x="618" y="748" class="c">锁舌形状</text>
<text x="610" y="785" class="c">锁舌：<tspan class="b">A</tspan></text>
<text x="802" y="785" class="c">锁舌：<tspan class="b">B</tspan></text>
<text x="967" y="785" class="c">锁舌：<tspan class="b">C</tspan></text>
<line x1="774" y1="785" x2="774" y2="927" class="sep"/>
<line x1="939" y1="785" x2="939" y2="927" class="sep"/>

<!-- tongue A -->
<rect x="611" y="823" width="106" height="5" rx="1" class="p"/>
<rect x="616" y="820" width="39" height="3" class="p"/>
<line x1="702" y1="815" x2="702" y2="836" class="ext"/>
<path d="M621,868 L702,861 A15,15 0 0 1 702,891 L621,884 A8,8 0 0 1 621,868 Z" class="p"/>
<rect x="616" y="870" width="39" height="12" rx="6" class="q"/>
<circle cx="702" cy="876" r="5" class="w"/>
<line x1="600" y1="876" x2="725" y2="876" class="cl"/>
<line x1="702" y1="855" x2="702" y2="916" class="ext"/>
<line x1="611" y1="880" x2="611" y2="916" class="ext"/>
<line x1="611" y1="912" x2="702" y2="912" class="dim" marker-start="url(#a)" marker-end="url(#a)"/>
<text x="656" y="908" class="d" text-anchor="middle">72</text>

<!-- tongue B -->
<rect x="804" y="823" width="78" height="5" rx="1" class="p"/>
<line x1="867" y1="815" x2="867" y2="836" class="ext"/>
<path d="M815,866 L867,861 A15,15 0 0 1 867,891 L815,886 A10,10 0 0 1 815,866 Z" class="p"/>
<circle cx="867" cy="876" r="5" class="w"/>
<line x1="795" y1="876" x2="890" y2="876" class="cl"/>
<line x1="867" y1="855" x2="867" y2="916" class="ext"/>
<line x1="804" y1="880" x2="804" y2="916" class="ext"/>
<line x1="804" y1="912" x2="867" y2="912" class="dim" marker-start="url(#a)" marker-end="url(#a)"/>
<text x="836" y="908" class="d" text-anchor="middle">50</text>

<!-- tongue C -->
<rect x="979" y="823" width="64" height="5" rx="1" class="p"/>
<line x1="1029" y1="815" x2="1029" y2="836" class="ext"/>
<path d="M988,867 L1029,862 A14,14 0 0 1 1029,890 L988,885 A9,9 0 0 1 988,867 Z" class="p"/>
<circle cx="1029" cy="876" r="5" class="w"/>
<line x1="972" y1="876" x2="1048" y2="876" class="cl"/>
<line x1="1029" y1="855" x2="1029" y2="915" class="ext"/>
<line x1="979" y1="880" x2="979" y2="915" class="ext"/>
<line x1="979" y1="911" x2="1029" y2="911" class="dim" marker-start="url(#a)" marker-end="url(#a)"/>
<text x="1004" y="907" class="d" text-anchor="middle">40</text>

<!-- 3 and □10 dims for A/B/C -->
<g class="ext">
<line x1="720" y1="823" x2="745" y2="823"/><line x1="720" y1="828" x2="745" y2="828"/>
<line x1="720" y1="870" x2="745" y2="870"/><line x1="720" y1="882" x2="745" y2="882"/>
<line x1="885" y1="823" x2="909" y2="823"/><line x1="885" y1="828" x2="909" y2="828"/>
<line x1="885" y1="870" x2="909" y2="870"/><line x1="885" y1="882" x2="909" y2="882"/>
<line x1="1046" y1="823" x2="1069" y2="823"/><line x1="1046" y1="828" x2="1069" y2="828"/>
<line x1="1046" y1="870" x2="1069" y2="870"/><line x1="1046" y1="882" x2="1069" y2="882"/>
</g>
<g class="dim" marker-end="url(#a)">
<line x1="739" y1="810" x2="739" y2="823"/><line x1="739" y1="841" x2="739" y2="828"/>
<line x1="739" y1="857" x2="739" y2="870"/><line x1="739" y1="895" x2="739" y2="882"/>
<line x1="904" y1="810" x2="904" y2="823"/><line x1="904" y1="841" x2="904" y2="828"/>
<line x1="904" y1="857" x2="904" y2="870"/><line x1="904" y1="895" x2="904" y2="882"/>
<line x1="1064" y1="810" x2="1064" y2="823"/><line x1="1064" y1="841" x2="1064" y2="828"/>
<line x1="1064" y1="857" x2="1064" y2="870"/><line x1="1064" y1="895" x2="1064" y2="882"/>
</g>
<g class="dim">
<line x1="739" y1="882" x2="739" y2="925"/>
<line x1="904" y1="882" x2="904" y2="925"/>
<line x1="1064" y1="882" x2="1064" y2="925"/>
</g>
<text transform="rotate(-90 734 805)" x="734" y="805" class="d" text-anchor="middle">3</text>
<text transform="rotate(-90 899 805)" x="899" y="805" class="d" text-anchor="middle">3</text>
<text transform="rotate(-90 1059 805)" x="1059" y="805" class="d" text-anchor="middle">3</text>
<text transform="rotate(-90 734 905)" x="734" y="905" class="d" text-anchor="middle">□10</text>
<text transform="rotate(-90 899 905)" x="899" y="905" class="d" text-anchor="middle">□10</text>
<text transform="rotate(-90 1059 905)" x="1059" y="905" class="d" text-anchor="middle">□10</text>

<!-- view symbol -->
<polygon points="976,973 1012,968 1012,1001 976,995" fill="#fff" stroke="#333" stroke-width="1"/>
<line x1="971" y1="984" x2="1017" y2="984" class="cl"/>
<circle cx="1065" cy="984" r="17" fill="#fff" stroke="#333"/>
<circle cx="1065" cy="984" r="10" fill="none" stroke="#333"/>
<line x1="1042" y1="984" x2="1088" y2="984" stroke="#333" stroke-width="0.8"/>
<line x1="1065" y1="962" x2="1065" y2="1006" stroke="#333" stroke-width="0.8"/>
<text x="957" y="1020" class="c">视角标准：第一视角</text>
</svg>
</body></html>
